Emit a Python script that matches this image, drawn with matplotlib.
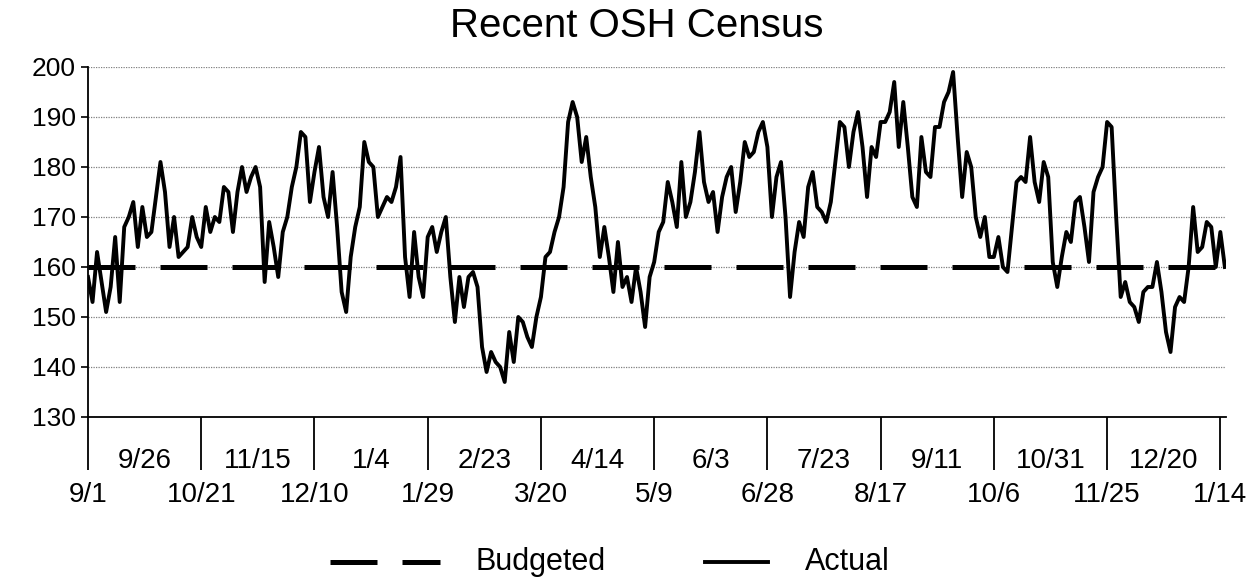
import numpy as np
import pandas as pd
import matplotlib
matplotlib.use("Agg")
from matplotlib import pyplot as plt
from matplotlib.lines import Line2D

plt.rcParams["font.family"] = ["Liberation Sans", "DejaVu Sans"]

# census read every other day, starting 9/1
start = pd.Timestamp("2005-09-01")
step_days = 2
actual = [
    158, 153, 163, 157, 151, 156, 166, 153, 168, 170, 173, 164, 172, 166, 167, 174, 181, 175, 164, 170, 162,
    163, 164, 170, 166, 164, 172, 167, 170, 169, 176, 175, 167, 175, 180, 175, 178, 180, 176, 157, 169, 164,
    158, 167, 170, 176, 180, 187, 186, 173, 179, 184, 174, 170, 179, 168, 155, 151, 162, 168, 172, 185, 181,
    180, 170, 172, 174, 173, 176, 182, 162, 154, 167, 158, 154, 166, 168, 163, 167, 170, 158, 149, 158, 152,
    158, 159, 156, 144, 139, 143, 141, 140, 137, 147, 141, 150, 149, 146, 144, 150, 154, 162, 163, 167, 170,
    176, 189, 193, 190, 181, 186, 178, 172, 162, 168, 162, 155, 165, 156, 158, 153, 160, 155, 148, 158, 161,
    167, 169, 177, 173, 168, 181, 170, 173, 179, 187, 177, 173, 175, 167, 174, 178, 180, 171, 177, 185, 182,
    183, 187, 189, 184, 170, 178, 181, 170, 154, 163, 169, 166, 176, 179, 172, 171, 169, 173, 181, 189, 188,
    180, 187, 191, 184, 174, 184, 182, 189, 189, 191, 197, 184, 193, 184, 174, 172, 186, 179, 178, 188, 188,
    193, 195, 199, 186, 174, 183, 180, 170, 166, 170, 162, 162, 166, 160, 159, 168, 177, 178, 177, 186, 177,
    173, 181, 178, 161, 156, 162, 167, 165, 173, 174, 168, 161, 175, 178, 180, 189, 188, 170, 154, 157, 153,
    152, 149, 155, 156, 156, 161, 155, 147, 143, 152, 154, 153, 160, 172, 163, 164, 169, 168, 160, 167, 160,
]
budgeted = 160

tick_labels = ["9/1", "9/26", "10/21", "11/15", "12/10", "1/4", "1/29", "2/23", "3/20", "4/14", "5/9",
               "6/3", "6/28", "7/23", "8/17", "9/11", "10/6", "10/31", "11/25", "12/20", "1/14"]
label_step_days = 25

dates = start + pd.to_timedelta(np.arange(len(actual)) * step_days, unit="D")
end = dates[-1] + pd.Timedelta(days=0.5)

fig = plt.figure(figsize=(12.58, 5.78), dpi=100)
ax = fig.add_axes([88 / 1258, 1 - 417 / 578, (1226 - 88) / 1258, (417 - 67) / 578])

ax.plot([start, end], [budgeted, budgeted], color="black", lw=3.6,
        dashes=(9.4, 5.0), dash_capstyle="butt")
ax.plot(dates, actual, color="black", lw=2.8)

ax.set_xlim(start, end)
ax.set_ylim(130, 200)
ax.set_yticks(range(130, 201, 10))
ax.yaxis.grid(True, color="#808080", lw=0.9, ls=(0, (1, 1)))
ax.set_axisbelow(True)
for s in ["top", "right"]:
    ax.spines[s].set_visible(False)
for s in ["left", "bottom"]:
    ax.spines[s].set_linewidth(1.3)
ax.tick_params(axis="y", labelsize=19, length=5, width=1.2, pad=4)

# long tick marks every 50 days, labels staggered on two rows
tick_dates = [start + pd.Timedelta(days=label_step_days * i) for i in range(len(tick_labels))]
ax.set_xticks(tick_dates[::2])
ax.set_xticklabels([])
ax.tick_params(axis="x", length=38, width=1.3)
tr = ax.get_xaxis_transform()
for i, (d, lab) in enumerate(zip(tick_dates, tick_labels)):
    y = -0.223 if i % 2 == 0 else -0.126
    ax.text(d, y, lab, transform=tr, ha="center", va="center", fontsize=20)

fig.text(637 / 1258, 1 - 26 / 578, "Recent OSH Census", ha="center", va="center", fontsize=29)

# legend
ly = 1 - 562 / 578
fig.add_artist(Line2D([330 / 1258, 440 / 1258], [ly, ly], color="black", lw=3.6,
                      dashes=(9.4, 5.0), dash_capstyle="butt"))
fig.add_artist(Line2D([705 / 1258, 768 / 1258], [ly, ly], color="black", lw=2.8))
fig.text(475 / 1258, ly, "Budgeted", ha="left", va="center", fontsize=22)
fig.text(805 / 1258, ly, "Actual", ha="left", va="center", fontsize=22)

fig.savefig("out.png", dpi=100)
